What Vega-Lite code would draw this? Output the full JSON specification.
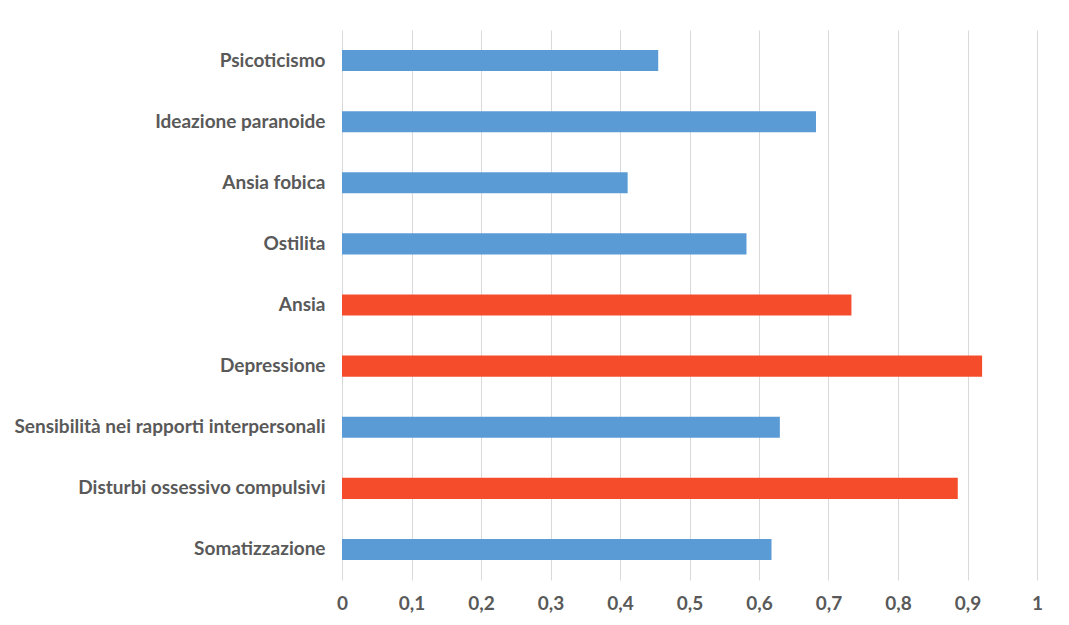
{
  "$schema": "https://vega.github.io/schema/vega-lite/v6.json",
  "autosize": {"type": "none"},
  "padding": {"left": 342, "top": 30, "right": 32, "bottom": 45},
  "width": 695,
  "height": 550,
  "background": "white",
  "config": {
    "view": {"stroke": null},
    "font": "Lato"
  },
  "data": {
    "values": [
      {"scala": "Psicoticismo", "valore": 0.455, "tipo": "normale"},
      {"scala": "Ideazione paranoide", "valore": 0.682, "tipo": "normale"},
      {"scala": "Ansia fobica", "valore": 0.411, "tipo": "normale"},
      {"scala": "Ostilita", "valore": 0.582, "tipo": "normale"},
      {"scala": "Ansia", "valore": 0.733, "tipo": "alto"},
      {"scala": "Depressione", "valore": 0.921, "tipo": "alto"},
      {"scala": "Sensibilità nei rapporti interpersonali", "valore": 0.630, "tipo": "normale"},
      {"scala": "Disturbi ossessivo compulsivi", "valore": 0.886, "tipo": "alto"},
      {"scala": "Somatizzazione", "valore": 0.618, "tipo": "normale"}
    ]
  },
  "mark": {"type": "bar"},
  "encoding": {
    "y": {
      "field": "scala",
      "type": "nominal",
      "sort": null,
      "scale": {"paddingInner": 0.655, "paddingOuter": 0.3275},
      "axis": {
        "title": null,
        "domain": false,
        "ticks": false,
        "grid": false,
        "labelPadding": 17,
        "labelFontSize": 19,
        "labelFontWeight": "bold",
        "labelColor": "#595959",
        "labelLimit": 400
      }
    },
    "x": {
      "field": "valore",
      "type": "quantitative",
      "scale": {"domain": [0, 1], "nice": false},
      "axis": {
        "title": null,
        "values": [0, 0.1, 0.2, 0.3, 0.4, 0.5, 0.6, 0.7, 0.8, 0.9, 1],
        "labelExpr": "replace(format(datum.value, '.1~f'), '.', ',')",
        "domain": false,
        "ticks": false,
        "grid": true,
        "gridColor": "#d9d9d9",
        "gridWidth": 1,
        "labelPadding": 14,
        "labelFontSize": 19,
        "labelFontWeight": "bold",
        "labelColor": "#595959",
        "labelFlush": false
      }
    },
    "color": {
      "field": "tipo",
      "type": "nominal",
      "scale": {"domain": ["normale", "alto"], "range": ["#5B9BD5", "#F54D2C"]},
      "legend": null
    }
  }
}
